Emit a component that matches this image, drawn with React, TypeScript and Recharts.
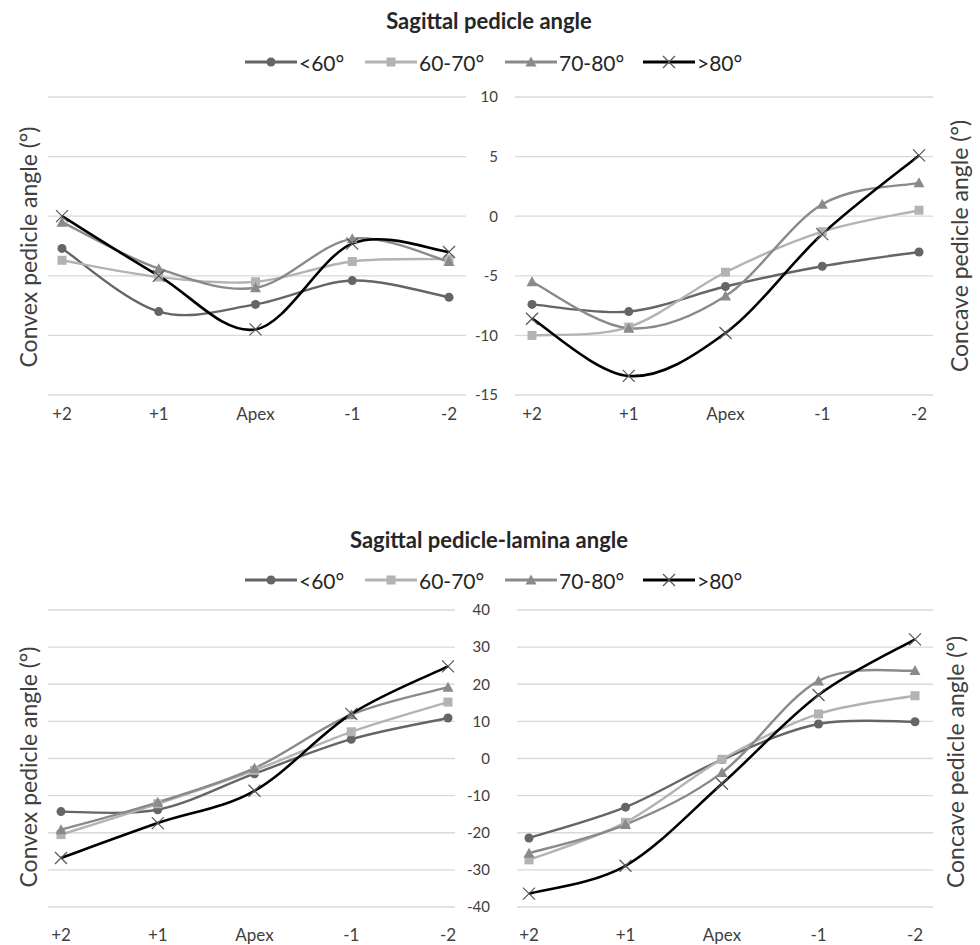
import React from 'react';
import { LineChart, Line, XAxis, YAxis, CartesianGrid } from 'recharts';

// ── Sagittal pedicle angle / pedicle-lamina angle by vertebral level

const LEVELS = ['+2', '+1', 'Apex', '-1', '-2'];
const GROUPS = ['<60°', '60-70°', '70-80°', '>80°'];

// top panel: sagittal pedicle angle
const SPA_TICKS = [-15, -10, -5, 0, 5, 10];
const spaConvexLt60 = [-2.7, -8.0, -7.4, -5.4, -6.8];
const spaConvex6070 = [-3.7, -5.1, -5.5, -3.8, -3.6];
const spaConvex7080 = [-0.5, -4.4, -6.0, -1.9, -3.8];
const spaConvexGt80 = [0.0, -5.0, -9.5, -2.3, -3.0];
const spaConcaveLt60 = [-7.4, -8.0, -5.9, -4.2, -3.0];
const spaConcave6070 = [-10.0, -9.3, -4.7, -1.3, 0.5];
const spaConcave7080 = [-5.5, -9.4, -6.7, 1.0, 2.8];
const spaConcaveGt80 = [-8.6, -13.4, -9.8, -1.5, 5.1];

// bottom panel: sagittal pedicle-lamina angle
const SPLA_TICKS = [-40, -30, -20, -10, 0, 10, 20, 30, 40];
const splaConvexLt60 = [-14.3, -13.8, -4.1, 5.2, 10.9];
const splaConvex6070 = [-20.5, -12.2, -3.2, 7.2, 15.2];
const splaConvex7080 = [-19.2, -11.8, -2.6, 11.8, 19.2];
const splaConvexGt80 = [-26.8, -17.4, -8.7, 12.0, 24.8];
const splaConcaveLt60 = [-21.4, -13.1, -0.3, 9.3, 9.9];
const splaConcave6070 = [-27.3, -17.2, -0.2, 12.0, 16.9];
const splaConcave7080 = [-25.5, -17.8, -3.8, 20.9, 23.7];
const splaConcaveGt80 = [-36.4, -28.9, -6.8, 17.1, 32.1];

const COLORS = ['#656565', '#b3b3b3', '#8a8a8a', '#000000'];
const FONT = 'Lato, "Open Sans", sans-serif';

// Excel-like smoothed line (Catmull-Rom through the points)
const smooth = (context: any) => {
  let pts: number[][] = [];
  return {
    areaStart() {},
    areaEnd() {},
    lineStart() { pts = []; },
    point(x: number, y: number) { pts.push([+x, +y]); },
    lineEnd() {
      if (!pts.length) return;
      context.moveTo(pts[0][0], pts[0][1]);
      for (let i = 0; i < pts.length - 1; i++) {
        const p0 = pts[Math.max(0, i - 1)];
        const p1 = pts[i];
        const p2 = pts[i + 1];
        const p3 = pts[Math.min(pts.length - 1, i + 2)];
        context.bezierCurveTo(
          p1[0] + (p2[0] - p0[0]) / 6, p1[1] + (p2[1] - p0[1]) / 6,
          p2[0] - (p3[0] - p1[0]) / 6, p2[1] - (p3[1] - p1[1]) / 6,
          p2[0], p2[1],
        );
      }
    },
  };
};

function Marker({ kind, x, y, color }: { kind: number; x: number; y: number; color: string }) {
  if (kind === 0) return <circle cx={x} cy={y} r={4.5} fill={color} />;
  if (kind === 1) return <rect x={x - 4.5} y={y - 4.5} width={9} height={9} fill={color} />;
  if (kind === 2) return <path d={`M${x},${y - 5.5} L${x + 5.5},${y + 4.5} L${x - 5.5},${y + 4.5} Z`} fill={color} />;
  return (
    <path d={`M${x - 6},${y - 6} L${x + 6},${y + 6} M${x + 6},${y - 6} L${x - 6},${y + 6}`} stroke="#555" strokeWidth={1.2} fill="none" />
  );
}

type PanelProps = {
  series: number[][];
  ticks: number[];
  left: number; top: number; width: number; height: number;
  margin: { top: number; right: number; bottom: number; left: number };
  xPad: { left: number; right: number };
  xHeight: number; xTickMargin: number;
  yWidth?: number; yTickMargin?: number;
};

function Panel(p: PanelProps) {
  const data = LEVELS.map((lv, i) => ({ level: lv, s0: p.series[0][i], s1: p.series[1][i], s2: p.series[2][i], s3: p.series[3][i] }));
  return (
    <div style={{ position: 'absolute', left: p.left, top: p.top }}>
      <LineChart width={p.width} height={p.height} data={data} margin={p.margin}>
        <CartesianGrid vertical={false} stroke="#d9d9d9" strokeWidth={1.3} />
        <XAxis dataKey="level" axisLine={false} tickLine={false} tickSize={0} height={p.xHeight} tickMargin={p.xTickMargin}
          padding={p.xPad} interval={0} tick={{ fontSize: 17, fill: '#404040', fontFamily: FONT }} />
        <YAxis domain={[p.ticks[0], p.ticks[p.ticks.length - 1]]} ticks={p.ticks} hide={!p.yWidth} width={p.yWidth || 0}
          axisLine={false} tickLine={false} tickSize={0} tickMargin={p.yTickMargin} interval={0}
          tick={{ fontSize: 15, fill: '#404040', fontFamily: FONT }} />
        {[0, 1, 2, 3].map(k => (
          <Line key={k} dataKey={`s${k}`} type={smooth as any} stroke={COLORS[k]} strokeWidth={k === 3 ? 2.6 : 2.4}
            isAnimationActive={false}
            dot={(d: any) => <Marker key={`${k}-${d.index}`} kind={k} x={d.cx} y={d.cy} color={COLORS[k]} />} />
        ))}
      </LineChart>
    </div>
  );
}

const LEGEND_X = [245, 365, 505, 643];

function Legend({ y }: { y: number }) {
  return (
    <g>
      {GROUPS.map((g, k) => (
        <g key={g}>
          <line x1={LEGEND_X[k]} x2={LEGEND_X[k] + 52} y1={y} y2={y} stroke={COLORS[k]} strokeWidth={3} />
          <Marker kind={k} x={LEGEND_X[k] + 26} y={y} color={COLORS[k]} />
          <text x={LEGEND_X[k] + 54} y={y} dominantBaseline="central" fontSize={21} fill="#262626" fontFamily={FONT}>{g}</text>
        </g>
      ))}
    </g>
  );
}

function AxisTitle({ x, y, text }: { x: number; y: number; text: string }) {
  return (
    <text x={x} y={y} transform={`rotate(-90 ${x} ${y})`} textAnchor="middle" dominantBaseline="central"
      fontSize={23} fill="#404040" fontFamily={FONT}>{text}</text>
  );
}

export default function App() {
  return (
    <div style={{ position: 'absolute', left: 0, top: 0, width: 980, height: 945, background: '#fff', overflow: 'hidden' }}>
      <Panel series={[spaConvexLt60, spaConvex6070, spaConvex7080, spaConvexGt80]} ticks={SPA_TICKS}
        left={0} top={80} width={480} height={350} margin={{ top: 17, right: 14, bottom: 0, left: 48 }}
        xPad={{ left: 14, right: 17 }} xHeight={35} xTickMargin={13} />
      <Panel series={[spaConcaveLt60, spaConcave6070, spaConcave7080, spaConcaveGt80]} ticks={SPA_TICKS}
        left={468} top={80} width={512} height={350} margin={{ top: 17, right: 47, bottom: 0, left: 0 }}
        xPad={{ left: 17, right: 14 }} xHeight={35} xTickMargin={13} yWidth={47} yTickMargin={17} />
      <Panel series={[splaConvexLt60, splaConvex6070, splaConvex7080, splaConvexGt80]} ticks={SPLA_TICKS}
        left={0} top={590} width={457} height={355} margin={{ top: 20, right: 2, bottom: 0, left: 48 }}
        xPad={{ left: 13, right: 7 }} xHeight={38} xTickMargin={22} />
      <Panel series={[splaConcaveLt60, splaConcave6070, splaConcave7080, splaConcaveGt80]} ticks={SPLA_TICKS}
        left={457} top={590} width={523} height={355} margin={{ top: 20, right: 47, bottom: 0, left: 0 }}
        xPad={{ left: 12, right: 18 }} xHeight={38} xTickMargin={22} yWidth={60} yTickMargin={27} />
      <svg width={980} height={945} style={{ position: 'absolute', left: 0, top: 0, pointerEvents: 'none' }}>
        <text x={489} y={20} textAnchor="middle" dominantBaseline="central" fontSize={22} fontWeight={700} fill="#262626" fontFamily={FONT}>
          Sagittal pedicle angle
        </text>
        <Legend y={62} />
        <AxisTitle x={28} y={247} text="Convex pedicle angle (°)" />
        <AxisTitle x={959} y={246} text="Concave pedicle angle (°)" />
        <text x={489} y={539} textAnchor="middle" dominantBaseline="central" fontSize={22} fontWeight={700} fill="#262626" fontFamily={FONT}>
          Sagittal pedicle-lamina angle
        </text>
        <Legend y={580} />
        <AxisTitle x={28} y={767} text="Convex pedicle angle (°)" />
        <AxisTitle x={955} y={762} text="Concave pedicle angle (°)" />
      </svg>
    </div>
  );
}
